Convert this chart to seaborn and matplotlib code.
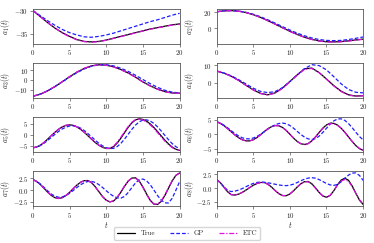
import numpy as np
import pandas as pd
import matplotlib
matplotlib.use("Agg")
import matplotlib.pyplot as plt
import seaborn as sns

# ---------------- data ----------------
t_coarse = np.arange(0, 21, 1.0)
t_fine = np.arange(0, 20.5, 0.5)

a1_true = [-30.0, -31.3, -32.6, -33.8, -34.8, -35.6, -36.3, -36.7, -36.8, -36.7, -36.4,
           -36.0, -35.6, -35.2, -34.8, -34.4, -34.0, -33.7, -33.4, -33.1, -32.9]
a1_gp = [-30.0, -31.1, -32.2, -33.2, -34.1, -34.8, -35.3, -35.7, -35.8, -35.6, -35.3,
         -34.9, -34.4, -33.9, -33.4, -32.9, -32.4, -32.0, -31.5, -31.0, -30.6]
a1_etc = [-30.0, -31.3, -32.6, -33.8, -34.85, -35.7, -36.35, -36.75, -36.85, -36.75, -36.45,
          -36.05, -35.65, -35.25, -34.85, -34.45, -34.05, -33.75, -33.45, -33.15, -32.95]

a2_true = [20.5, 21.7, 22.0, 21.3, 19.6, 17.0, 13.6, 9.6, 5.3, 0.8, -3.5,
           -7.4, -10.8, -13.5, -15.4, -16.4, -16.6, -16.2, -15.3, -14.2, -13.2]
a2_gp = [20.5, 21.7, 22.0, 21.4, 19.9, 17.5, 14.4, 10.6, 6.5, 2.2, -2.0,
         -5.8, -9.1, -11.8, -13.7, -14.8, -15.1, -14.8, -13.7, -12.2, -10.6]
a2_etc = [20.5, 21.6, 21.9, 21.2, 19.5, 16.9, 13.5, 9.5, 5.2, 0.7, -3.7,
          -7.6, -11.0, -13.7, -15.6, -16.7, -16.9, -16.5, -15.6, -14.5, -13.4]

a3_true = [-16.5, -14.5, -11.1, -6.8, -1.9, 3.2, 7.8, 11.6, 14.2, 15.3, 14.9,
           13.3, 10.5, 7.0, 2.8, -2.0, -6.0, -9.3, -11.8, -13.2, -13.4]
a3_gp = [-16.5, -14.4, -11.0, -6.7, -2.0, 2.8, 7.3, 11.1, 13.9, 15.3, 15.4,
         14.2, 11.8, 8.6, 4.7, 0.4, -3.8, -7.5, -10.5, -12.4, -13.1]
a3_etc = [-16.5, -14.4, -11.0, -6.6, -1.7, 3.4, 8.0, 11.8, 14.3, 15.3, 14.8,
          13.1, 10.3, 6.8, 2.6, -2.2, -6.2, -9.5, -12.0, -13.3, -13.5]

a4_true = [6.7, 5.5, 3.8, 1.5, -1.2, -3.8, -5.8, -6.6, -5.5, -2.8, 0.8,
           4.5, 7.9, 8.3, 5.8, 2.2, -1.5, -4.6, -6.6, -7.3, -7.1]
a4_gp = [6.7, 5.6, 4.0, 1.9, -0.5, -2.9, -4.7, -5.4, -4.8, -2.6, 0.8,
         4.5, 8.0, 10.2, 9.7, 7.3, 3.5, -0.5, -3.6, -5.2, -5.5]
a4_etc = [6.7, 5.5, 3.7, 1.4, -1.3, -3.9, -5.9, -6.7, -5.7, -3.0, 0.6,
          4.3, 7.6, 8.1, 5.7, 2.1, -1.7, -4.8, -6.8, -7.4, -7.1]

a5_true = [-5.8, -5.5, -4.7, -3.5, -2.0, -0.43, 1.09, 2.44, 3.49, 4.17, 4.4,
           4.17, 3.49, 2.43, 1.09, -0.43, -2.0, -3.46, -4.69, -5.61, -6.12,
           -6.13, -5.31, -3.69, -1.51, 0.95, 3.34, 5.32, 6.64, 7.1, 6.83,
           6.06, 4.82, 3.23, 1.40, -0.53, -2.42, -4.13, -5.51, -6.49, -6.96]
a5_gp = [-5.8, -5.55, -4.86, -3.81, -2.56, -1.19, 0.19, 1.48, 2.57, 3.39, 3.88,
         3.99, 3.68, 2.95, 1.88, 0.53, -0.95, -2.44, -3.82, -4.96, -5.77,
         -6.17, -6.06, -5.26, -3.82, -1.91, 0.25, 2.41, 4.32, 5.76, 6.56,
         6.65, 6.12, 5.04, 3.51, 1.68, -0.30, -2.24, -3.97, -5.33, -6.20]
a5_etc = [-5.8, -5.45, -4.65, -3.45, -1.95, -0.38, 1.12, 2.47, 3.52, 4.2, 4.42,
          4.2, 3.52, 2.47, 1.15, -0.35, -1.92, -3.4, -4.65, -5.6, -6.12,
          -6.0, -5.05, -3.35, -1.1, 1.35, 3.7, 5.6, 6.8, 7.05, 6.6,
          5.7, 4.4, 2.8, 0.95, -1.0, -2.85, -4.45, -5.75, -6.6, -6.95]

a6_true = [4.27, 3.75, 2.95, 1.95, 0.85, -0.22, -1.16, -1.86, -2.25, -2.27, -1.89,
           -1.16, -0.18, 0.88, 1.86, 2.59, 2.97, 2.90, 2.31, 1.30, 0.02,
           -1.31, -2.45, -3.23, -3.5, -3.18, -2.26, -0.92, 0.61, 2.07, 3.17,
           3.75, 3.70, 3.12, 2.07, 0.67, -0.9, -2.47, -3.87, -4.92, -5.5]
a6_gp = [4.29, 3.83, 3.10, 2.20, 1.22, 0.26, -0.58, -1.20, -1.55, -1.58, -1.31,
         -0.78, -0.04, 0.83, 1.73, 2.55, 3.22, 3.65, 3.8, 3.59, 2.98,
         2.07, 1.0, -0.07, -0.98, -1.59, -1.8, -1.50, -0.65, 0.60, 2.04,
         3.44, 4.55, 5.19, 5.25, 4.71, 3.65, 2.23, 0.68, -0.79, -1.94]
a6_etc = [4.27, 3.72, 2.9, 1.9, 0.8, -0.27, -1.2, -1.9, -2.28, -2.3, -1.92,
          -1.2, -0.22, 0.85, 1.83, 2.56, 2.94, 2.88, 2.3, 1.3, 0.03,
          -1.3, -2.45, -3.25, -3.52, -3.2, -2.28, -0.95, 0.56, 1.98, 3.05,
          3.6, 3.58, 3.02, 2.0, 0.62, -0.92, -2.45, -3.82, -4.85, -5.45]

a7_true = [2.25, 1.87, 1.24, 0.44, -0.39, -1.10, -1.59, -1.76, -1.60, -1.14, -0.46,
           0.33, 1.09, 1.69, 2.04, 2.06, 1.61, 0.75, -0.31, -1.35, -2.13,
           -2.49, -2.30, -1.55, -0.41, 0.85, 1.94, 2.59, 2.64, 1.95, 0.70,
           -0.80, -2.14, -2.96, -3.04, -2.37, -1.11, 0.46, 2.0, 3.16, 3.68]
a7_gp = [2.25, 1.92, 1.35, 0.63, -0.13, -0.80, -1.28, -1.49, -1.43, -1.13, -0.65,
         -0.05, 0.58, 1.16, 1.60, 1.86, 1.88, 1.65, 1.19, 0.58, -0.11,
         -0.76, -1.29, -1.62, -1.69, -1.31, -0.48, 0.57, 1.56, 2.22, 2.39,
         2.01, 1.17, 0.04, -1.14, -2.12, -2.70, -2.71, -1.71, 0.01, 1.81]
a7_etc = [2.25, 1.86, 1.22, 0.42, -0.4, -1.1, -1.58, -1.74, -1.57, -1.1, -0.42,
          0.37, 1.12, 1.71, 2.05, 2.05, 1.58, 0.7, -0.36, -1.38, -2.14,
          -2.47, -2.25, -1.48, -0.32, 0.94, 2.0, 2.6, 2.58, 1.85, 0.58,
          -0.9, -2.2, -2.95, -2.98, -2.28, -1.0, 0.56, 2.06, 3.18, 3.66]

a8_true = [1.56, 1.02, 0.2, -0.63, -1.16, -1.25, -1.09, -0.78, -0.37, 0.08, 0.51,
           0.84, 1.03, 1.03, 0.74, 0.21, -0.43, -0.99, -1.34, -1.37, -1.06,
           -0.49, 0.19, 0.80, 1.18, 1.21, 0.80, 0.05, -0.77, -1.41, -1.65,
           -1.32, -0.46, 0.61, 1.47, 1.8, 1.43, 0.41, -0.92, -2.18, -2.96]
a8_gp = [1.56, 1.02, 0.27, -0.37, -0.62, -0.54, -0.35, -0.08, 0.25, 0.58, 0.85,
         1.04, 1.1, 1.07, 0.98, 0.85, 0.71, 0.58, 0.49, 0.46, 0.53,
         0.73, 1.02, 1.34, 1.63, 1.83, 1.9, 1.81, 1.55, 1.2, 0.85,
         0.59, 0.5, 0.68, 1.15, 1.78, 2.37, 2.74, 2.76, 2.3, 1.4]
a8_etc = [1.56, 1.0, 0.17, -0.66, -1.18, -1.25, -1.07, -0.75, -0.33, 0.11, 0.53,
          0.85, 1.02, 1.0, 0.7, 0.17, -0.46, -1.0, -1.33, -1.35, -1.03,
          -0.46, 0.21, 0.8, 1.15, 1.15, 0.72, -0.02, -0.82, -1.42, -1.62,
          -1.28, -0.45, 0.55, 1.3, 1.55, 1.25, 0.3, -0.95, -2.1, -2.85]

panel_labels = ["$a_1(t)$", "$a_2(t)$", "$a_3(t)$", "$a_4(t)$",
                "$a_5(t)$", "$a_6(t)$", "$a_7(t)$", "$a_8(t)$"]
series_names = ["True", "GP", "ETC"]
x_ticks = [0, 5, 10, 15, 20]
y_ticks = [[-35, -30], [0, 20], [-10, 0, 10], [0, 10],
           [-5, 0, 5], [-5, 0, 5], [-2.5, 0, 2.5], [-2.5, 0, 2.5]]

panels = [
    (t_coarse, a1_true, a1_gp, a1_etc),
    (t_coarse, a2_true, a2_gp, a2_etc),
    (t_coarse, a3_true, a3_gp, a3_etc),
    (t_coarse, a4_true, a4_gp, a4_etc),
    (t_fine, a5_true, a5_gp, a5_etc),
    (t_fine, a6_true, a6_gp, a6_etc),
    (t_fine, a7_true, a7_gp, a7_etc),
    (t_fine, a8_true, a8_gp, a8_etc),
]

# ---------------- style ----------------
sns.set_theme(style="ticks")
plt.rcParams.update({
    "font.family": "serif",
    "font.serif": ["cmr10", "DejaVu Serif"],
    "mathtext.fontset": "cm",
    "axes.formatter.use_mathtext": True,
    "axes.unicode_minus": True,
    "axes.edgecolor": "#555555",
    "axes.linewidth": 0.6,
    "xtick.color": "#555555",
    "ytick.color": "#555555",
    "xtick.labelcolor": "#222222",
    "ytick.labelcolor": "#222222",
})

styles = {
    "True": dict(color="black", linestyle="-", lw=0.9),
    "GP": dict(color="#1f1fff", linestyle=(0, (3.0, 1.6)), lw=0.9),
    "ETC": dict(color="#e010e0", linestyle=(0, (4.0, 1.4, 1.0, 1.4)), lw=0.9),
}

fig, axes = plt.subplots(4, 2, figsize=(3.74, 2.43), dpi=100)
fig.subplots_adjust(left=0.088, right=0.971, top=0.963, bottom=0.152,
                    wspace=0.252, hspace=0.56)

for i, (ax, (tt, yt, yg, ye)) in enumerate(zip(axes.flat, panels)):
    for name, vals in zip(series_names, [yt, yg, ye]):
        sns.lineplot(x=tt, y=vals, ax=ax, label=name, **styles[name])
    ax.set_xlim(0, 20)
    ax.set_xticks(x_ticks)
    ax.set_yticks(y_ticks[i])
    ax.set_ylabel(panel_labels[i], fontsize=5.5)
    ax.yaxis.set_label_coords(-0.14, 0.5)
    ax.tick_params(labelsize=5, length=2, width=0.5, pad=1.2)
    if ax.get_legend() is not None:
        ax.get_legend().remove()
    for sp in ax.spines.values():
        sp.set_visible(True)

for ax in axes[-1]:
    ax.set_xlabel("$t$", fontsize=5.5, labelpad=0.5)

handles, labels = axes[0, 0].get_legend_handles_labels()
fig.legend(handles, labels, loc="lower center", bbox_to_anchor=(0.5, 0.0),
           ncol=3, fontsize=5, frameon=True, handlelength=2.6,
           columnspacing=2.2, borderpad=0.45, edgecolor="#cccccc", fancybox=True)

fig.savefig("out.png", dpi=100)
